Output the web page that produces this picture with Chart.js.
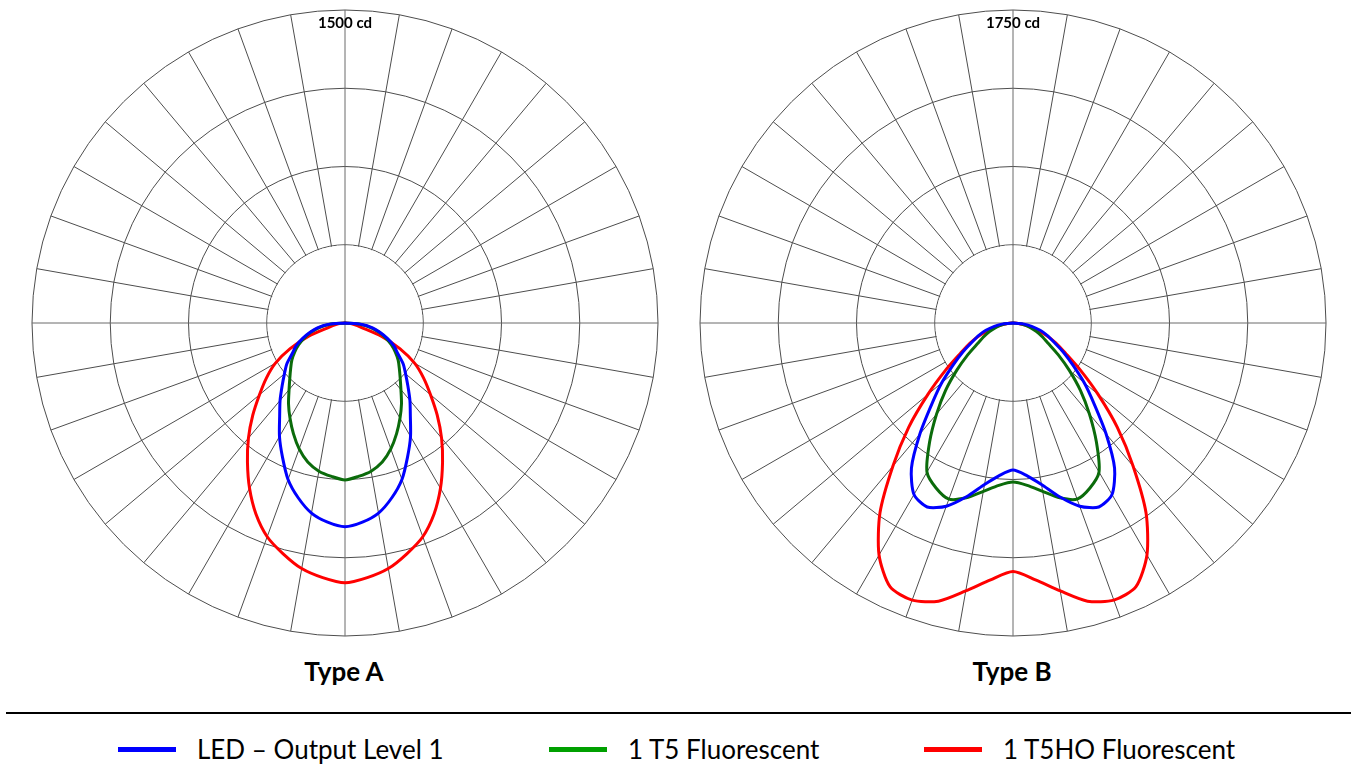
<!DOCTYPE html>
<html>
<head>
<meta charset="utf-8">
<script src="https://cdn.jsdelivr.net/npm/chart.js@4.4.1/dist/chart.umd.min.js"></script>
<style>
  html, body { margin:0; padding:0; background:#fff; width:1351px; height:781px; overflow:hidden; font-family: Lato, "Open Sans", sans-serif; }
  .wrap { position:absolute; }
  canvas { display:block; }
  .title { position:absolute; width:240px; text-align:center; font-weight:bold; font-size:26px; line-height:30px; color:#000; }
  .sep { position:absolute; left:6px; right:0; top:712px; height:2px; background:#000; }
  .leg { position:absolute; top:733px; height:32px; display:flex; align-items:center; font-size:26px; color:#000; white-space:nowrap; }
  .sw { display:inline-block; width:58px; height:5px; margin-right:21px; }
</style>
</head>
<body>
<div class="wrap" style="left:25px;top:3px;width:641px;height:641px"><canvas id="chartA" width="641" height="641"></canvas></div>
<div class="wrap" style="left:693px;top:3px;width:641px;height:641px"><canvas id="chartB" width="641" height="641"></canvas></div>
<div class="title" id="titleA" style="left:224px;top:656px"></div>
<div class="title" id="titleB" style="left:892px;top:656px"></div>
<div class="sep"></div>
<div class="leg" style="left:118px"><span class="sw" id="sw0"></span><span id="lg0"></span></div>
<div class="leg" style="left:549px"><span class="sw" id="sw1"></span><span id="lg1"></span></div>
<div class="leg" style="left:924px"><span class="sw" id="sw2"></span><span id="lg2"></span></div>
<script>
// ---- data (candela, vertical angle gamma from nadir, 0..90 deg step 5) ----
const gammaAngles = [0,5,10,15,20,25,30,35,40,45,50,55,60,65,70,75,80,85,90];
const typeA_LED  = [976, 958, 925, 867, 798, 709, 628, 546, 484, 426, 379, 340, 292, 259, 216, 173, 134, 82, 0];
const typeA_T5   = [752, 738, 721, 690, 642, 585, 527, 472, 417, 374, 340, 311, 278, 244, 206, 168, 125, 77, 0];
const typeA_T5HO = [1245, 1225, 1195, 1145, 1090, 1010, 915, 815, 720, 625, 535, 460, 385, 290, 185, 80, 45, 20, 0];
const typeB_LED  = [822, 855, 917, 1006, 1090, 1135, 1107, 990, 810, 643, 520, 408, 324, 252, 205, 157, 106, 56, 0];
const typeB_T5   = [889, 911, 956, 1012, 1048, 1018, 962, 813, 665, 533, 410, 308, 227, 179, 140, 101, 67, 34, 0];
const typeB_T5HO = [1390, 1442, 1521, 1610, 1649, 1627, 1498, 1297, 1045, 825, 621, 460, 340, 265, 195, 120, 70, 30, 0];
const scaleMaxA = 1500;
const scaleMaxB = 1750;
const seriesNames = ['LED \u2013 Output Level 1', '1 T5 Fluorescent', '1 T5HO Fluorescent'];
const chartTitles = ['Type A', 'Type B'];
const unitLabel = 'cd';

// ---- styling ----
const curveColors = ['#0000ff', '#0b6b0b', '#ff0000'];
const swatchColors = ['#0000ff', '#00a000', '#ff0000'];
const gridColor = '#4d4d4d';
const crossColor = '#6a6a6a';

// radar directions: 0deg = up, clockwise, step 5deg
const directions = Array.from({length: 72}, (_, i) => i * 5);
const step = gammaAngles[1] - gammaAngles[0];
function toRadar(half) {
  return directions.map(theta => {
    const g = Math.abs(180 - theta);
    return g <= gammaAngles[gammaAngles.length - 1] ? half[g / step] : 0;
  });
}

const innerHub = {
  id: 'innerHub',
  beforeDatasetsDraw(chart) {
    const s = chart.scales.r;
    const ctx = chart.ctx;
    const r1 = s.getDistanceFromCenterForValue(s.ticks[1].value);
    ctx.save();
    ctx.beginPath();
    ctx.arc(s.xCenter, s.yCenter, r1 - 0.7, 0, Math.PI * 2);
    ctx.fillStyle = '#ffffff';
    ctx.fill();
    ctx.strokeStyle = crossColor;
    ctx.lineWidth = 1;
    const q = directions.length / 4;
    [[0, 2 * q], [q, 3 * q]].forEach(([a, b]) => {
      const p1 = s.getPointPosition(a, r1);
      const p2 = s.getPointPosition(b, r1);
      ctx.beginPath();
      ctx.moveTo(p1.x, p1.y);
      ctx.lineTo(p2.x, p2.y);
      ctx.stroke();
    });
    ctx.restore();
  }
};

function makeChart(id, maxVal, led, t5, t5ho) {
  const ds = [led, t5, t5ho].map((arr, k) => ({
    label: seriesNames[k],
    data: toRadar(arr),
    borderColor: curveColors[k],
    backgroundColor: 'transparent',
    borderWidth: 3,
    pointRadius: 0,
    pointHoverRadius: 0,
    fill: false,
    tension: 0.25
  }));
  return new Chart(document.getElementById(id), {
    type: 'radar',
    data: { labels: directions.map(d => d + '\u00b0'), datasets: ds },
    options: {
      responsive: false,
      animation: false,
      devicePixelRatio: 1,
      layout: { padding: 0 },
      plugins: { legend: { display: false }, tooltip: { enabled: false }, title: { display: false } },
      scales: {
        r: {
          min: 0,
          max: maxVal,
          startAngle: 0,
          ticks: {
            count: 5,
            display: true,
            showLabelBackdrop: false,
            backdropPadding: 0,
            color: '#000',
            font: { family: 'Lato', size: 15, weight: 'bold', lineHeight: 0.85 },
            callback: (v) => v === maxVal ? ['', v + ' ' + unitLabel] : ''
          },
          grid: {
            color: gridColor,
            lineWidth: 1,
            circular: (c) => c.index === 1
          },
          angleLines: {
            display: true,
            color: (c) => (c.index % 18 === 0 ? crossColor : gridColor),
            lineWidth: (c) => (c.index % 2 === 0 ? 1 : 0)
          },
          pointLabels: { display: false }
        }
      }
    },
    plugins: [innerHub]
  });
}

makeChart('chartA', scaleMaxA, typeA_LED, typeA_T5, typeA_T5HO);
makeChart('chartB', scaleMaxB, typeB_LED, typeB_T5, typeB_T5HO);

document.getElementById('titleA').textContent = chartTitles[0];
document.getElementById('titleB').textContent = chartTitles[1];
for (let k = 0; k < 3; k++) {
  document.getElementById('sw' + k).style.background = swatchColors[k];
  document.getElementById('lg' + k).textContent = seriesNames[k];
}
</script>
</body>
</html>
